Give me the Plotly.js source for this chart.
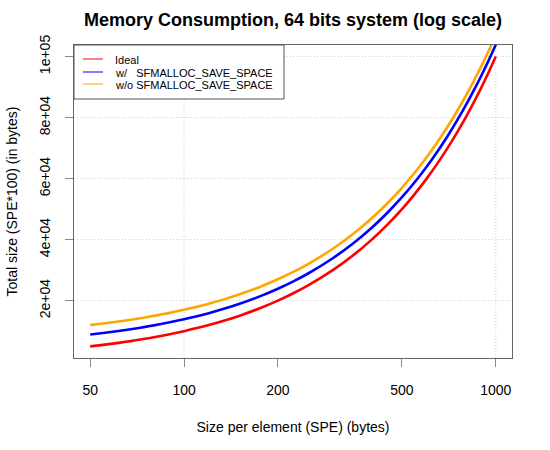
<!DOCTYPE html>
<html>
<head>
<meta charset="utf-8">
<script src="https://cdn.plot.ly/plotly-3.0.1.min.js"></script>
<style>html,body{margin:0;padding:0;background:#fff}#chart{width:550px;height:450px}</style>
</head>
<body>
<div id="chart"></div>
<script>
// Size per element (SPE), bytes
var spe = [50, 55, 60, 65, 70, 75, 80, 90, 100, 110, 120, 135, 150, 175, 200, 225, 250, 300, 350, 400, 450, 500, 550, 600, 650, 700, 750, 800, 850, 900, 950, 1000];
// Ideal total size (SPE*100)
var idealSize = [5000, 5500, 6000, 6500, 7000, 7500, 8000, 9000, 10000, 11000, 12000, 13500, 15000, 17500, 20000, 22500, 25000, 30000, 35000, 40000, 45000, 50000, 55000, 60000, 65000, 70000, 75000, 80000, 85000, 90000, 95000, 100000];
// With SFMALLOC_SAVE_SPACE
var withSave = [8900, 9400, 9900, 10400, 10900, 11400, 11900, 12900, 13900, 14900, 15900, 17400, 18900, 21400, 23900, 26400, 28900, 33900, 38900, 43900, 48900, 53900, 58900, 63900, 68900, 73900, 78900, 83900, 88900, 93900, 98900, 103900];
// Without SFMALLOC_SAVE_SPACE
var withoutSave = [12000, 12500, 13000, 13500, 14000, 14500, 15000, 16000, 17000, 18000, 19000, 20500, 22000, 24500, 27000, 29500, 32000, 37000, 42000, 47000, 52000, 57000, 62000, 67000, 72000, 77000, 82000, 87000, 92000, 97000, 102000, 107000];

var seriesNames = ["Ideal", "w/\u00a0\u00a0\u00a0SFMALLOC_SAVE_SPACE", "w/o SFMALLOC_SAVE_SPACE"];
var seriesColors = ["#FF0000", "#0000FF", "#FFA500"];
var seriesValues = [idealSize, withSave, withoutSave];

var xTicks = [50, 100, 200, 500, 1000];
var xTickText = ["50", "100", "200", "500", "1000"];
var xGrid = [100, 1000];
var yTicks = [20000, 40000, 60000, 80000, 100000];
var yTickText = ["2e+04", "4e+04", "6e+04", "8e+04", "1e+05"];
var yRange = [1200, 103800];

var FONT = "Liberation Sans, Arial, Helvetica, sans-serif";
var traces = [];

// vertical dotted grid lines at 100 and 1000 only
var gx = [], gy = [];
for (var g = 0; g < xGrid.length; g++) {
  gx.push(xGrid[g], xGrid[g], null);
  gy.push(yRange[0], yRange[1], null);
}
traces.push({
  x: gx, y: gy, type: "scatter", mode: "lines",
  line: {color: "#cfcfcf", width: 1, dash: "1px,2px"},
  showlegend: false, hoverinfo: "skip", connectgaps: false
});

for (var i = 0; i < seriesValues.length; i++) {
  traces.push({
    x: spe, y: seriesValues[i], type: "scatter", mode: "lines", name: seriesNames[i],
    line: {color: seriesColors[i], width: 2.6, shape: "spline", smoothing: 0.8},
    showlegend: false, hoverinfo: "skip"
  });
}

// Legend drawn as a boxed key in the top-left corner of the plot area (paper coords)
var W = 550, H = 450, ML = 74, MR = 38, MT = 45, MB = 92;
var PW = W - ML - MR, PH = H - MT - MB;
function px(x) { return (x - ML) / PW; }
function py(y) { return 1 - (y - MT) / PH; }
var shapes = [{
  type: "rect", xref: "paper", yref: "paper",
  x0: px(74), x1: px(284), y0: py(99), y1: py(45),
  line: {color: "#555", width: 1}, fillcolor: "#ffffff", layer: "above"
}];
var annotations = [];
var legendY = [59, 72, 84];
for (var k = 0; k < seriesNames.length; k++) {
  shapes.push({
    type: "line", xref: "paper", yref: "paper",
    x0: px(83), x1: px(103), y0: py(legendY[k]), y1: py(legendY[k]),
    line: {color: seriesColors[k], width: 1}, layer: "above"
  });
  annotations.push({
    xref: "paper", yref: "paper", x: px(113), y: py(legendY[k] + 0.5),
    xanchor: "left", yanchor: "middle", showarrow: false,
    text: seriesNames[k], font: {family: FONT, size: 11, color: "#000"}
  });
}

var xr = [Math.log10(50) - 0.052, 3 + 0.052];
var layout = {
  width: W, height: H,
  margin: {l: ML, r: MR, t: MT, b: MB, pad: 0},
  paper_bgcolor: "#ffffff", plot_bgcolor: "#ffffff",
  font: {family: FONT, size: 14, color: "#000"},
  title: {
    text: "Memory Consumption, 64 bits system (log scale)",
    font: {family: FONT, size: 18, color: "#000", weight: "bold"},
    x: 0.5, xref: "paper", xanchor: "center", y: 1 - 20 / 450, yref: "container", yanchor: "middle"
  },
  xaxis: {
    type: "log", range: xr, tickmode: "array", tickvals: xTicks, ticktext: xTickText,
    ticks: "outside", ticklen: 8, tickwidth: 1, tickcolor: "#888",
    showgrid: false, gridcolor: "rgba(0,0,0,0)", zeroline: false,
    minor: {showgrid: false, ticks: ""},
    showline: true, mirror: true, linecolor: "#666", linewidth: 1,
    tickfont: {family: FONT, size: 14, color: "#000"},
    ticklabelstandoff: 11,
    title: {text: "Size per element (SPE) (bytes)", font: {family: FONT, size: 14, color: "#000"}, standoff: 25},
    automargin: false
  },
  yaxis: {
    range: yRange, tickmode: "array", tickvals: yTicks, ticktext: yTickText,
    tickangle: -90,
    ticks: "outside", ticklen: 8, tickwidth: 1, tickcolor: "#888",
    showgrid: true, gridcolor: "#cfcfcf", griddash: "1px,2px", gridwidth: 1,
    zeroline: false, showline: true, mirror: true, linecolor: "#666", linewidth: 1,
    tickfont: {family: FONT, size: 14, color: "#000"},
    ticklabelstandoff: 9,
    title: {text: "Total size (SPE*100) (in bytes)", font: {family: FONT, size: 14, color: "#000"}, standoff: 16},
    automargin: false
  },
  shapes: shapes,
  annotations: annotations,
  showlegend: false
};

Plotly.newPlot("chart", traces, layout, {staticPlot: true, displayModeBar: false});
</script>
</body>
</html>
